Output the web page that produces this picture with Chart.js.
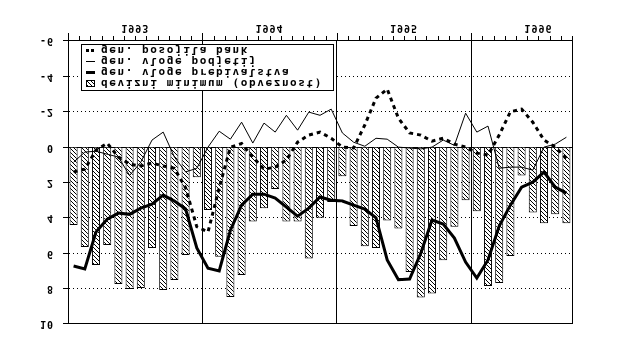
<!DOCTYPE html>
<html>
<head>
<meta charset="utf-8">
<script src="https://cdn.jsdelivr.net/npm/chart.js@4/dist/chart.umd.min.js"></script>
<style>
  html, body { margin: 0; padding: 0; background: #fff; }
  #wrap { width: 640px; height: 350px; transform: scaleY(-1); }
  canvas { display: block; }
</style>
</head>
<body>
<div id="wrap"><canvas id="c" width="640" height="350"></canvas></div>
<script>
// Monthly data, January 1993 - September 1996
const years = ['1993', '1994', '1995', '1996'];
const monthsShown = [12, 12, 12, 9];
const months = [];
years.forEach((y, k) => {
  for (let m = 1; m <= monthsShown[k]; m++) months.push(y + '-' + String(m).padStart(2, '0'));
});

const seriesLabels = [
  'gen. posojila bank',
  'gen. vloge podjetij',
  'gen. vloge prebivalstva',
  'devizni minimum (obveznost)'
];

const posojilaBank = [
  1.4, 1.25, 0.17, -0.22, 0.56, 0.96, 1.07, 0.9, 1.07, 1.2, 2.3, 4.5,
  4.8, 2.3, 0.0, -0.2, 0.56, 1.25, 1.13, 0.73, -0.28, -0.68, -0.85, -0.5,
  0.0, 0.05, -1.25, -2.77, -3.28, -1.64, -0.8, -0.68, -0.34, -0.5, -0.17, 0.0,
  0.34, 0.45, -0.68, -2.0, -2.15, -1.41, -0.4, 0.0, 0.62
];

const vlogePodjetij = [
  0.85, 0.28, 0.23, 0.4, 0.56, 1.6, 0.85, -0.4, -0.85, 0.56, 1.4, 1.2,
  0.0, -0.9, -0.45, -1.41, -0.23, -1.36, -0.85, -1.8, -0.96, -1.98, -1.8, -2.15,
  -0.8, -0.28, -0.05, -0.5, -0.45, 0.0, 0.05, 0.1, 0.0, -0.4, -0.1, -1.92,
  -0.85, -1.19, 1.19, 1.13, 1.13, 1.3, 0.0, -0.17, -0.56
];

const vlogePrebivalstva = [
  6.72, 6.89, 4.8, 4.07, 3.73, 3.8, 3.45, 3.22, 2.71, 3.05, 3.5, 5.7,
  6.84, 7.0, 4.7, 3.28, 2.66, 2.66, 2.88, 3.39, 3.9, 3.45, 2.82, 3.0,
  3.05, 3.28, 3.5, 4.0, 6.38, 7.5, 7.46, 6.0, 4.12, 4.35, 5.14, 6.5,
  7.4, 6.38, 4.46, 3.28, 2.26, 1.98, 1.41, 2.26, 2.6
];

const devizniMinimum = [
  4.4, 5.65, 6.67, 5.54, 7.74, 8.02, 7.97, 5.7, 8.08, 7.51, 6.1, 1.7,
  3.56, 6.2, 8.47, 7.23, 4.2, 3.45, 2.37, 4.2, 4.2, 6.3, 4.0, 3.1,
  1.64, 4.46, 5.6, 5.7, 4.15, 4.6, 7.06, 8.5, 8.27, 6.4, 4.5, 3.0,
  3.62, 7.85, 7.68, 6.16, 1.6, 3.7, 4.3, 3.8, 4.3
];

const yMin = -6, yMax = 10, yStep = 2;

const FONT = "'DejaVu Sans Mono', monospace";
Chart.defaults.font.family = FONT;
Chart.defaults.font.weight = 'bold';
Chart.defaults.font.size = 10;
Chart.defaults.color = '#000';

// diagonal hatch fill for the bars
function makeHatch() {
  const p = document.createElement('canvas');
  p.width = 4; p.height = 4;
  const g = p.getContext('2d');
  g.fillStyle = '#fff';
  g.fillRect(0, 0, 4, 4);
  g.fillStyle = '#000';
  for (let i = 0; i < 4; i++) g.fillRect(i, 3 - i, 1, 1);
  return p;
}
const ctx = document.getElementById('c').getContext('2d');
const hatch = ctx.createPattern(makeHatch(), 'repeat');

const spacingPlugin = {
  id: 'spacing',
  beforeDraw(chart) { chart.ctx.letterSpacing = '1px'; }
};

// month tick marks on the time axis, longer at year boundaries
const monthTicks = {
  id: 'monthTicks',
  afterDraw(chart) {
    const xs = chart.scales.x;
    const c = chart.ctx;
    c.save();
    c.fillStyle = '#000';
    for (let i = 0; i <= xs.ticks.length; i++) {
      const px = Math.round(xs.getPixelForValue(i - 0.5));
      const len = (i % 12 === 0) ? 8 : 5;
      c.fillRect(px, xs.top, 1, len);
    }
    c.restore();
  }
};

// framed legend inside the plot, lower left
const boxLegend = {
  id: 'boxLegend',
  afterDraw(chart) {
    const { ctx, chartArea: a } = chart;
    const left = a.left + 13, right = a.left + 265;
    const bottom = a.bottom - 4, top = bottom - 46;
    ctx.save();
    ctx.fillStyle = '#fff';
    ctx.fillRect(left, top, right - left, bottom - top);
    ctx.strokeStyle = '#000';
    ctx.lineWidth = 1;
    ctx.strokeRect(left + 0.5, top + 0.5, right - left, bottom - top);
    const rows = [3, 2, 1, 0];
    ctx.font = "bold 11px " + FONT;
    ctx.letterSpacing = '1.6px';
    ctx.textBaseline = 'middle';
    ctx.textAlign = 'left';
    rows.forEach((di, k) => {
      const ds = chart.data.datasets[di];
      const y = top + 7 + 11 * k;
      const sx = left + 5;
      ctx.fillStyle = '#000';
      if (di === 3) {
        ctx.fillStyle = hatch;
        ctx.fillRect(sx, y - 3, 9, 7);
        ctx.strokeRect(sx + 0.5, y - 2.5, 8, 6);
      } else if (di === 2) {
        ctx.fillRect(sx, y - 1, 9, 3);
      } else if (di === 1) {
        ctx.fillRect(sx, y, 9, 1);
      } else {
        ctx.fillRect(sx, y - 1, 3, 3);
        ctx.fillRect(sx + 5, y - 1, 3, 3);
      }
      ctx.fillStyle = '#000';
      ctx.fillText(ds.label, left + 20, y + 1);
    });
    ctx.restore();
  }
};

new Chart(ctx, {
  data: {
    labels: months,
    datasets: [
      {
        type: 'line', label: seriesLabels[0], data: posojilaBank,
        borderColor: '#000', borderWidth: 3, borderDash: [4, 4],
        pointRadius: 0, tension: 0, order: 1
      },
      {
        type: 'line', label: seriesLabels[1], data: vlogePodjetij,
        borderColor: '#000', borderWidth: 1,
        pointRadius: 0, tension: 0, order: 2
      },
      {
        type: 'line', label: seriesLabels[2], data: vlogePrebivalstva,
        borderColor: '#000', borderWidth: 3,
        pointRadius: 0, tension: 0, order: 3
      },
      {
        type: 'bar', label: seriesLabels[3], data: devizniMinimum,
        backgroundColor: hatch, borderColor: '#000', borderWidth: 1,
        barPercentage: 0.72, categoryPercentage: 1, order: 4
      }
    ]
  },
  options: {
    responsive: false,
    animation: false,
    devicePixelRatio: 1,
    layout: { padding: { top: 26, right: 68, left: 0, bottom: 0 } },
    plugins: { legend: { display: false }, tooltip: { enabled: false } },
    scales: {
      x: {
        type: 'category',
        position: 'bottom',
        offset: true,
        afterFit: s => { s.height = 41; },
        grid: {
          offset: true,
          drawTicks: false,
          lineWidth: 1,
          color: c => (c.index === undefined || c.index % 12 === 0) ? '#000' : 'rgba(255,255,255,0)'
        },
        border: { display: true, color: '#000', width: 1 },
        ticks: {
          autoSkip: false,
          maxRotation: 0,
          minRotation: 0,
          padding: 7,
          labelOffset: 5.6,
          callback: (v, i) => (i % 12 === 5) ? years[Math.floor(i / 12)] : ''
        }
      },
      y: {
        min: yMin,
        max: yMax,
        afterFit: s => { s.width = 68; },
        ticks: { stepSize: yStep, padding: 9 },
        grid: {
          drawTicks: true,
          tickLength: 5,
          lineWidth: 1,
          color: '#000',
          tickColor: '#000'
        },
        border: {
          display: true, color: '#000', width: 1,
          dash: c => (!c.tick || c.tick.value === 0 || c.tick.value === yMax || c.tick.value === yMin) ? [] : [1, 3]
        }
      }
    }
  },
  plugins: [spacingPlugin, monthTicks, boxLegend]
});
</script>
</body>
</html>
